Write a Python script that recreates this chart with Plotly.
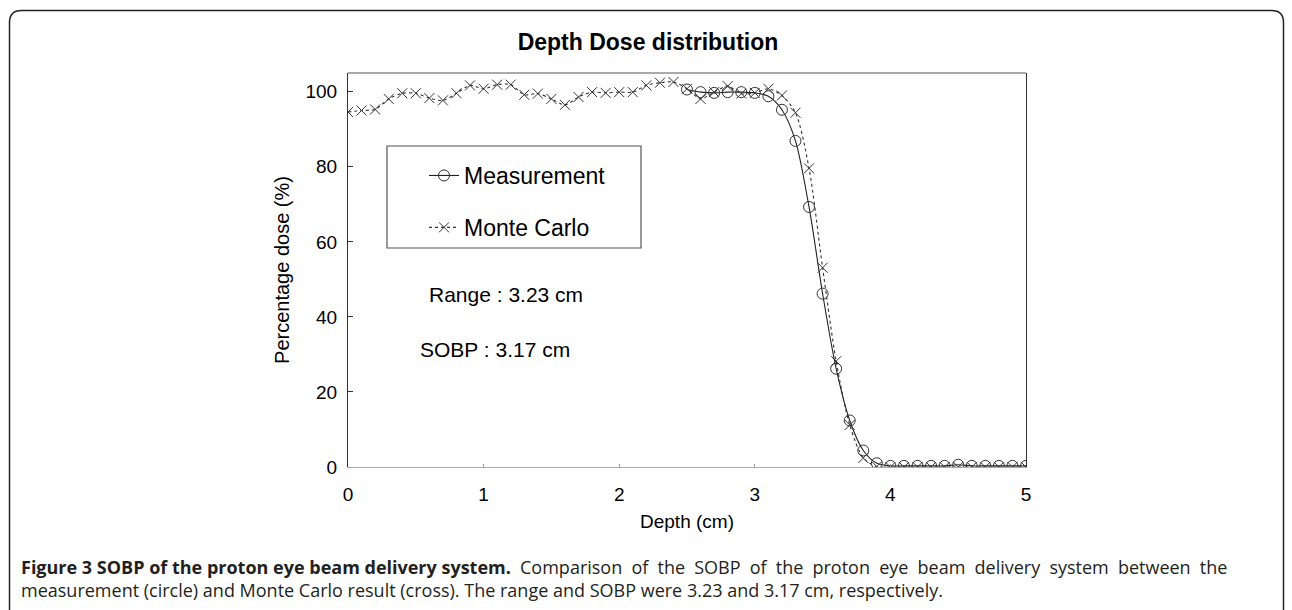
import plotly.graph_objects as go

# ---- data ----
depth_mc = [0.0, 0.1, 0.2, 0.3, 0.4, 0.5, 0.6, 0.7, 0.8, 0.9,
            1.0, 1.1, 1.2, 1.3, 1.4, 1.5, 1.6, 1.7, 1.8, 1.9,
            2.0, 2.1, 2.2, 2.3, 2.4, 2.5, 2.6, 2.7, 2.8, 2.9,
            3.0, 3.1, 3.2, 3.3, 3.4, 3.5, 3.6, 3.7, 3.8, 3.9,
            4.0, 4.1, 4.2, 4.3, 4.4, 4.5, 4.6, 4.7, 4.8, 4.9, 5.0]
dose_mc = [94.6, 95.0, 95.3, 98.1, 99.6, 99.6, 98.3, 97.7, 99.6, 101.7,
           100.8, 101.9, 101.9, 99.2, 99.5, 98.1, 96.5, 98.6, 99.9, 99.7,
           99.9, 99.9, 101.7, 102.4, 102.6, 100.8, 98.1, 99.9, 101.5, 99.5,
           99.7, 100.8, 99.0, 94.4, 79.6, 53.1, 28.2, 11.2, 2.4, 0.1,
           0.0, 0.0, 0.0, 0.0, 0.0, 0.0, 0.0, 0.0, 0.0, 0.0, 0.0]

depth_meas = [2.5, 2.6, 2.7, 2.8, 2.9, 3.0, 3.1, 3.2, 3.3, 3.4,
              3.5, 3.6, 3.7, 3.8, 3.9, 4.0, 4.1, 4.2, 4.3, 4.4,
              4.5, 4.6, 4.7, 4.8, 4.9, 5.0]
dose_meas = [100.6, 99.9, 99.7, 99.9, 99.9, 99.7, 98.8, 95.2, 86.9, 69.3,
             46.2, 26.2, 12.4, 4.4, 1.0, 0.3, 0.3, 0.3, 0.3, 0.3,
             0.6, 0.3, 0.3, 0.3, 0.3, 0.3]

x_ticks = [0, 1, 2, 3, 4, 5]
y_ticks = [0, 20, 40, 60, 80, 100]

title_text = "Depth Dose distribution"
x_title = "Depth (cm)"
y_title = "Percentage dose (%)"
note_range = "Range : 3.23 cm"
note_sobp = "SOBP : 3.17 cm"
caption_bold = "Figure 3 SOBP of the proton eye beam delivery system."
caption_rest1 = " Comparison of the SOBP of the proton eye beam delivery system between the"
caption_rest2 = "measurement (circle) and Monte Carlo result (cross). The range and SOBP were 3.23 and 3.17 cm, respectively."

# ---- layout geometry (pixels) ----
W, H = 1292, 610
L, R, T, B = 348, 1026, 73, 467
PW, PH = R - L, B - T

def px(x):
    return (x - L) / PW

def py(y):
    return (B - y) / PH

FONT = "Liberation Sans, Arial, sans-serif"

fig = go.Figure()

fig.add_trace(go.Scatter(
    x=depth_meas, y=dose_meas, name="Measurement", mode="lines+markers",
    legendgroup="a",
    line=dict(color="#222222", width=1.1, shape="spline", smoothing=0.8),
    marker=dict(symbol="circle-open", size=11, color="#333333",
                line=dict(width=1, color="#333333")),
))
fig.add_trace(go.Scatter(
    x=depth_mc, y=dose_mc, name="Monte Carlo", mode="lines+markers",
    legendgroup="b",
    line=dict(color="#333333", width=1.1, dash="dot", shape="spline", smoothing=0.8),
    marker=dict(symbol="x-thin-open", size=10, color="#333333",
                line=dict(width=1, color="#333333")),
))

fig.update_layout(
    width=W, height=H,
    margin=dict(l=L, r=W - R, t=T, b=H - B, autoexpand=False),
    paper_bgcolor="white", plot_bgcolor="white",
    font=dict(family=FONT, color="black"),
    title=dict(text="<b>" + title_text + "</b>", font=dict(size=23, family=FONT),
               x=648 / W, xref="container", xanchor="center",
               y=1 - 42 / H, yref="container", yanchor="middle"),
    showlegend=True,
    legend=dict(x=px(424), y=py(154), xanchor="left", yanchor="top",
                borderwidth=0, bgcolor="rgba(0,0,0,0)",
                font=dict(size=23, family=FONT), tracegroupgap=19,
                itemwidth=30),
    xaxis=dict(range=[0, 5], tickvals=x_ticks, ticks="inside", ticklen=3,
               tickcolor="#999999", showline=True, linecolor="#aaaaaa",
               linewidth=1, showgrid=False, zeroline=False,
               ticklabelstandoff=10,
               tickfont=dict(size=19, family=FONT),
               title=dict(text=x_title, font=dict(size=19, family=FONT), standoff=10)),
    yaxis=dict(range=[0, 105], tickvals=y_ticks, ticks="inside", ticklen=5,
               tickcolor="#333333", showline=True, linecolor="#333333",
               linewidth=1.2, mirror=True, showgrid=False, zeroline=False,
               ticklabelstandoff=6,
               tickfont=dict(size=19, family=FONT),
               title=dict(text=y_title, font=dict(size=20, family=FONT), standoff=10)),
)

# top border of plot box
fig.add_shape(type="line", xref="paper", yref="paper", x0=0, x1=1, y0=1, y1=1,
              line=dict(color="#555555", width=1.2))

# legend frame
fig.add_shape(type="rect", xref="paper", yref="paper",
              x0=px(387), x1=px(641), y0=py(248), y1=py(146),
              line=dict(color="#555555", width=1.2))

# text notes
fig.add_annotation(text=note_range, xref="paper", yref="paper", x=px(427), y=py(294),
                   xanchor="left", yanchor="middle", showarrow=False,
                   font=dict(size=21, family=FONT))
fig.add_annotation(text=note_sobp, xref="paper", yref="paper", x=px(418), y=py(349),
                   xanchor="left", yanchor="middle", showarrow=False,
                   font=dict(size=21, family=FONT))

# caption (first line justified in the original: widen its word gaps slightly)
line1_rest = caption_rest1.replace(" ", " \u2005")
fig.add_annotation(text="<b>" + caption_bold + "</b>" + line1_rest + "<br>" + caption_rest2,
                   xref="paper", yref="paper", x=px(19), y=py(553),
                   xanchor="left", yanchor="top", align="left", showarrow=False,
                   font=dict(size=18, family="Open Sans, sans-serif", color="#231f20"))

# outer rounded frame
x0, x1, y0, y1, r = 9.5, 1283.5, 10.5, 640, 12
path = (f"M {px(x0)} {py(y1)} L {px(x0)} {py(y0 + r)} "
        f"Q {px(x0)} {py(y0)} {px(x0 + r)} {py(y0)} "
        f"L {px(x1 - r)} {py(y0)} "
        f"Q {px(x1)} {py(y0)} {px(x1)} {py(y0 + r)} "
        f"L {px(x1)} {py(y1)}")
fig.add_shape(type="path", xref="paper", yref="paper", path=path,
              line=dict(color="#222222", width=1.5))

fig.write_html("out.html", config={"displayModeBar": False},
               post_script="document.body.style.margin='0px';document.body.style.overflow='hidden';")
